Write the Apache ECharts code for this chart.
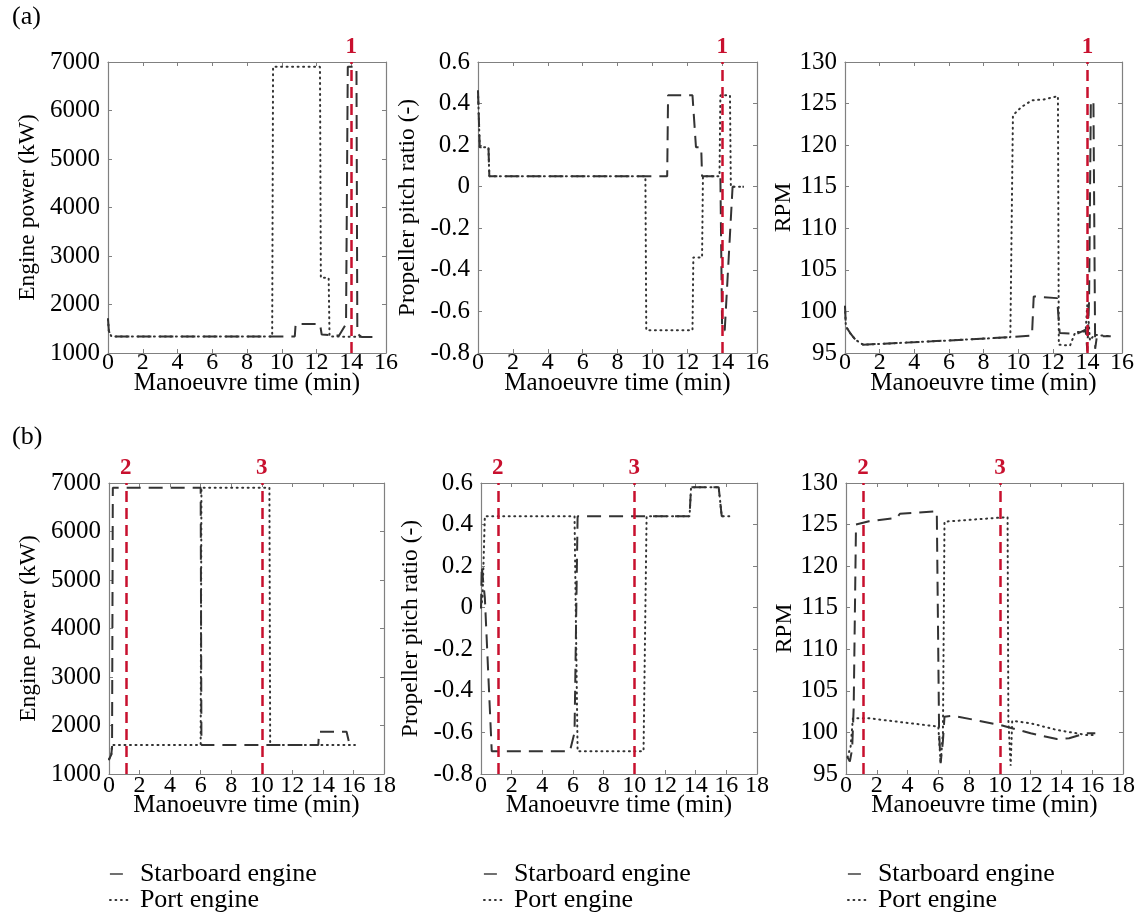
<!DOCTYPE html>
<html>
<head>
<meta charset="utf-8">
<title>Manoeuvre engine data</title>
<script src="https://cdn.jsdelivr.net/npm/echarts@6/dist/echarts.min.js"></script>
<style>
    html, body { margin: 0; padding: 0; background: #fff; }
    #main { width: 1145px; height: 912px; }
</style>
</head>
<body>
<div id="main"></div>
<script type="text/javascript">
    // ---- data: [time (min), value] ----
    // (a) engine power (kW)
    var a1Starboard = [[0,1700],[0.05,1450],[0.2,1340],[10.75,1340],[10.8,1600],[12.2,1600],[12.3,1380],[13.3,1360],[13.7,1600],[13.8,6900],[14.3,6900],[14.35,1400],[14.6,1330],[15.3,1330]];
    var a1Port = [[0,1700],[0.05,1450],[0.2,1340],[9.45,1340],[9.5,6900],[12.2,6900],[12.25,2550],[12.7,2550],[12.75,1340],[15.3,1330]];
    // (a) propeller pitch ratio
    var a2Starboard = [[0,0.46],[0.1,0.19],[0.6,0.19],[0.65,0.05],[10.85,0.05],[10.9,0.44],[12.3,0.44],[12.5,0.19],[12.8,0.19],[12.85,0.05],[13.9,0.05],[14.0,-0.69],[14.15,-0.69],[14.6,0.0],[15.25,0.0]];
    var a2Port = [[0,0.46],[0.1,0.19],[0.6,0.19],[0.65,0.05],[9.6,0.05],[9.65,-0.69],[12.3,-0.69],[12.35,-0.34],[12.85,-0.34],[12.9,0.05],[13.85,0.05],[13.9,0.44],[14.45,0.44],[14.5,0.0],[15.25,0.0]];
    // (a) RPM
    var a3Starboard = [[0,100.6],[0.05,98.2],[0.3,97.4],[0.6,96.6],[1.05,96.0],[5,96.4],[9.5,96.9],[10.8,97.1],[10.9,101.8],[12.25,101.6],[12.4,97.4],[13.4,97.3],[13.9,97.8],[14.0,95.2],[14.1,101.5],[14.2,125.3],[14.35,125.3],[14.45,95.5],[14.55,97.0],[15.35,97.0]];
    var a3Port = [[0,100.6],[0.05,98.2],[0.3,97.4],[0.6,96.6],[1.05,96.0],[5,96.4],[9.55,96.9],[9.7,123.6],[10.2,124.6],[10.8,125.4],[11.5,125.5],[12.3,125.9],[12.35,96.0],[13.0,95.9],[13.3,97.5],[13.9,97.6],[14.0,101.0],[14.15,96.5],[14.4,97.2],[15.35,97.0]];
    // (b) engine power (kW)
    var b1Starboard = [[0,1300],[0.15,1400],[0.2,1560],[0.25,6900],[6.0,6900],[6.05,1600],[13.7,1600],[13.75,1870],[15.55,1870],[15.75,1600],[16.1,1600]];
    var b1Port = [[0,1300],[0.15,1400],[0.2,1600],[6.0,1600],[6.05,6900],[10.5,6900],[10.55,1600],[16.1,1600]];
    // (b) propeller pitch ratio
    var b2Starboard = [[0,0.0],[0.05,0.2],[0.15,0.12],[0.25,0.05],[0.7,-0.69],[5.8,-0.69],[6.1,-0.6],[6.3,0.44],[13.6,0.44],[13.7,0.58],[15.5,0.58],[15.7,0.44],[16.2,0.44]];
    var b2Port = [[0,0.0],[0.1,0.05],[0.25,0.44],[6.1,0.44],[6.3,-0.69],[10.6,-0.69],[10.8,0.44],[13.6,0.44],[13.7,0.58],[15.5,0.58],[15.7,0.44],[16.2,0.44]];
    // (b) RPM
    var b3Starboard = [[0.1,97.0],[0.25,96.5],[0.4,98],[0.5,103],[0.65,125.0],[1.5,125.4],[3.3,125.8],[3.5,126.3],[5.9,126.6],[6.05,100],[6.15,96.3],[6.3,99],[6.4,101.9],[7.0,102.0],[10.0,100.9],[12.0,99.9],[13.7,99.2],[14.5,99.3],[15.6,99.9],[16.2,99.9]];
    var b3Port = [[0.1,97.0],[0.3,98.3],[0.45,101.7],[1.5,101.7],[6.0,100.7],[6.15,96.3],[6.3,100],[6.4,125.35],[10.5,125.9],[10.55,101.5],[10.7,96.0],[10.8,101.4],[12.0,101.1],[13.7,100.3],[15.6,99.7],[16.2,99.7]];

    // red event markers
    var marksA = [{x: 14, label: '1'}];
    var marksB = [{x: 1.1, label: '2'}, {x: 10.0, label: '3'}];

    var FONT = '"Liberation Serif", "DejaVu Serif", serif';
    var RED = '#c8102e';
    var INK = '#333333';
    var FRAME = '#808080';

    var panels = [
        {grid: {left: 108, top: 62, width: 278, height: 291}, xMax: 16, yMin: 1000, yMax: 7000, yStep: 1000, yName: 'Engine power (kW)', gap: 68, sb: a1Starboard, pt: a1Port, marks: marksA},
        {grid: {left: 478, top: 62, width: 279, height: 291}, xMax: 16, yMin: -0.8, yMax: 0.6, yStep: 0.2, yName: 'Propeller pitch ratio (-)', gap: 58, sb: a2Starboard, pt: a2Port, marks: marksA},
        {grid: {left: 845, top: 62, width: 277, height: 291}, xMax: 16, yMin: 95, yMax: 130, yStep: 5, yName: 'RPM', gap: 46, sb: a3Starboard, pt: a3Port, marks: marksA},
        {grid: {left: 109, top: 483, width: 275, height: 291}, xMax: 18, yMin: 1000, yMax: 7000, yStep: 1000, yName: 'Engine power (kW)', gap: 68, sb: b1Starboard, pt: b1Port, marks: marksB},
        {grid: {left: 481, top: 483, width: 276, height: 291}, xMax: 18, yMin: -0.8, yMax: 0.6, yStep: 0.2, yName: 'Propeller pitch ratio (-)', gap: 58, sb: b2Starboard, pt: b2Port, marks: marksB},
        {grid: {left: 846, top: 483, width: 277, height: 291}, xMax: 18, yMin: 95, yMax: 130, yStep: 5, yName: 'RPM', gap: 46, sb: b3Starboard, pt: b3Port, marks: marksB}
    ];

    function plain(v) { return String(Math.round(v * 10) / 10); }

    var grids = [], xAxes = [], yAxes = [], series = [];
    panels.forEach(function (p, i) {
        grids.push(p.grid);
        var topRow = i < 3;
        var tick = {show: true, inside: true, length: 4, lineStyle: {color: FRAME}};
        var line = {show: true, onZero: false, lineStyle: {color: FRAME, width: 1.2}};
        xAxes.push({
            type: 'value', gridIndex: i, min: 0, max: p.xMax, interval: 2, position: 'bottom',
            axisLine: line, axisTick: tick, splitLine: {show: false},
            axisLabel: {color: '#000', fontFamily: FONT, fontSize: 24, margin: topRow ? -2 : 0, formatter: plain},
            name: 'Manoeuvre time (min)', nameLocation: 'middle', nameGap: topRow ? 18 : 19,
            nameMoveOverlap: false,
            nameTextStyle: {color: '#000', fontFamily: FONT, fontSize: 25}
        });
        xAxes.push({
            type: 'value', gridIndex: i, min: 0, max: p.xMax, interval: 2, position: 'top',
            axisLine: line, axisTick: tick, axisLabel: {show: false}, splitLine: {show: false}
        });
        yAxes.push({
            type: 'value', gridIndex: i, min: p.yMin, max: p.yMax, interval: p.yStep, position: 'left',
            axisLine: line, axisTick: tick, splitLine: {show: false},
            axisLabel: {color: '#000', fontFamily: FONT, fontSize: 25, margin: 8, formatter: plain},
            name: p.yName, nameLocation: 'middle', nameGap: p.gap,
            nameTextStyle: {color: '#000', fontFamily: FONT, fontSize: 23.5}
        });
        yAxes.push({
            type: 'value', gridIndex: i, min: p.yMin, max: p.yMax, interval: p.yStep, position: 'right',
            axisLine: line, axisTick: tick, axisLabel: {show: false}, splitLine: {show: false}
        });
        series.push({
            name: 'Starboard engine', type: 'line', xAxisIndex: 2 * i, yAxisIndex: 2 * i,
            data: p.sb, symbol: 'none', z: 3,
            lineStyle: {color: INK, width: 2, type: [14, 8]}, itemStyle: {color: INK}
        });
        series.push({
            name: 'Port engine', type: 'line', xAxisIndex: 2 * i, yAxisIndex: 2 * i,
            data: p.pt, symbol: 'none', z: 2,
            lineStyle: {color: INK, width: 2, type: [1, 4.5], cap: 'round'}, itemStyle: {color: INK},
            markLine: {
                silent: true, symbol: 'none', animation: false,
                lineStyle: {color: RED, width: 2.5, type: [11, 6]},
                label: {position: 'end', color: RED, fontFamily: FONT, fontWeight: 'bold', fontSize: 23, distance: 3},
                data: p.marks.map(function (m) { return {xAxis: m.x, label: {formatter: m.label}}; })
            }
        });
    });

    // one legend under each column
    var legends = [104, 478, 842].map(function (left) {
        return {
            orient: 'vertical', left: left, top: 856, height: 120, itemGap: 0, itemWidth: 21, itemHeight: 14,
            selectedMode: false,
            textStyle: {color: '#000', fontFamily: FONT, fontSize: 26, lineHeight: 25, padding: [0, 0, 0, 4]},
            data: [
                {name: 'Starboard engine', itemStyle: {opacity: 0}, lineStyle: {type: [13, 20], width: 1.4}},
                {name: 'Port engine', itemStyle: {opacity: 0}, lineStyle: {type: [1, 4.5], width: 1.8}}
            ]
        };
    });

    var myChart = echarts.init(document.getElementById('main'));
    var option = {
        backgroundColor: '#fff',
        animation: false,
        grid: grids,
        xAxis: xAxes,
        yAxis: yAxes,
        legend: legends,
        series: series,
        graphic: [
            {type: 'text', left: 12, top: 4, style: {text: '(a)', font: '26px ' + FONT, fill: '#000'}},
            {type: 'text', left: 12, top: 424, style: {text: '(b)', font: '26px ' + FONT, fill: '#000'}}
        ]
    };
    myChart.setOption(option);
</script>
</body>
</html>
